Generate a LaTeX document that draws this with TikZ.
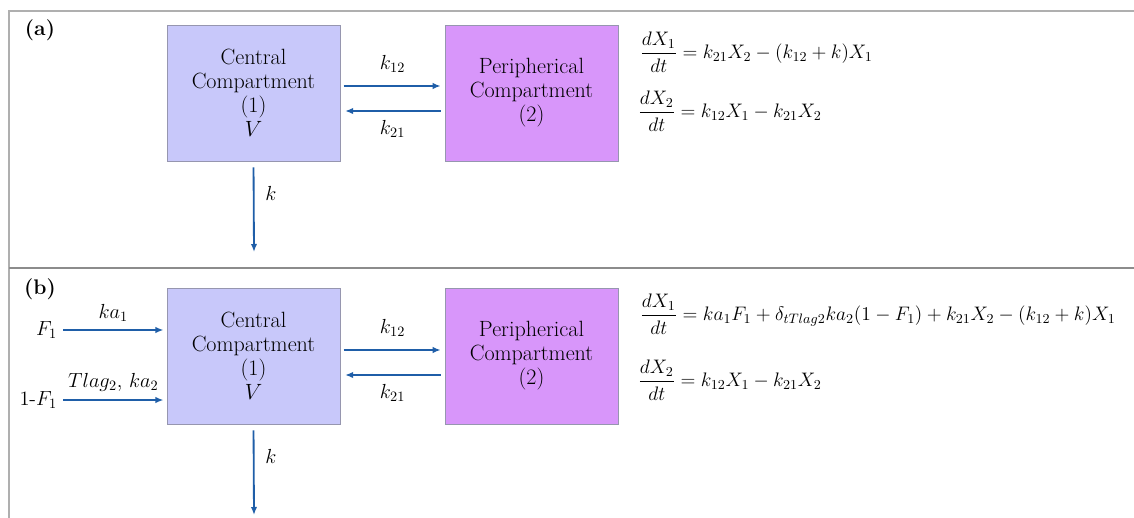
\RequirePackage{fix-cm}
\documentclass[tikz,border=0pt]{standalone}
\usepackage{amsmath}
\usetikzlibrary{arrows.meta,positioning}

\definecolor{flowblue}{RGB}{31,94,168}
\definecolor{centralfill}{RGB}{200,200,250}
\definecolor{periphfill}{RGB}{216,150,250}
\definecolor{boxedge}{RGB}{150,150,175}
\definecolor{framegray}{RGB}{175,175,175}

\begin{document}
\begin{tikzpicture}[x=0.025cm, y=-0.025cm,
    central/.style={rectangle, draw=boxedge, fill=centralfill, minimum width=4.325cm, minimum height=3.4cm, align=center, font=\fontsize{15.7}{17}\selectfont},
    periph/.style={rectangle, draw=boxedge, fill=periphfill, minimum width=4.325cm, minimum height=3.4cm, align=center, font=\fontsize{15.7}{17}\selectfont},
    flow/.style={-{Latex[length=2mm,width=1.6mm]}, flowblue, line width=1.3pt},
    rate/.style={font=\fontsize{14.5}{16}\selectfont, inner sep=2pt, text=black},
    panel/.style={font=\fontsize{15}{17}\selectfont\bfseries},
    eqn/.style={anchor=west, font=\fontsize{13.9}{17}\selectfont, inner sep=0pt}
]
\useasboundingbox (0,0) rectangle (1134,518);

% Frame
\draw[framegray, line width=1pt] (1134,11) -- (9,11) -- (9,518);
\draw[framegray!80!black, line width=1pt] (9,268) -- (1134,268);

% ---------- Panel (a) ----------
\node[panel] (labA) at (40,30) {(a)};

\node[central] (cenA) at (253.5,93) {Central\\Compartment\\(1)\\$V$};
\node[periph] (perA) at (531.5,93) {Peripherical\\Compartment\\(2)};

\draw[flow, shorten <=0.08cm, shorten >=0.1cm] ([yshift=0.175cm]cenA.east) -- ([yshift=0.175cm]perA.west) node[rate, midway, above=0.25cm] {$k_{12}$};
\draw[flow, shorten <=0.1cm, shorten >=0.12cm] ([yshift=-0.45cm]perA.west) -- ([yshift=-0.45cm]cenA.east) node[rate, midway, below=0.15cm] {$k_{21}$};

\coordinate (outA) at (254,252);
\draw[flow, shorten <=0.15cm] (cenA.south) -- (outA) node[rate, pos=0.35, right=0.2cm] {$k$};

\node[eqn] (eqA1) at (640,52) {$\dfrac{dX_1}{dt} = k_{21}X_2 - (k_{12}+k)X_1$};
\node[eqn] (eqA2) at (638,111) {$\dfrac{dX_2}{dt} = k_{12}X_1 - k_{21}X_2$};

% ---------- Panel (b) ----------
\node[panel] (labB) at (40,289) {(b)};

\node[central] (cenB) at (253.5,356) {Central\\Compartment\\(1)\\$V$};
\node[periph] (perB) at (531.5,356) {Peripherical\\Compartment\\(2)};

% Inputs
\node[rate, anchor=east] (fA) at (60,330) {$F_1$};
\node[rate, anchor=east] (fB) at (60,400) {1-$F_1$};
\draw[flow, shorten <=0.08cm, shorten >=0.08cm] (fA.east |- 0,330) -- ([yshift=0.65cm]cenB.west) node[rate, midway, above=0.12cm] {$ka_1$};
\draw[flow, shorten <=0.08cm, shorten >=0.08cm] (fB.east |- 0,400) -- ([yshift=-1.1cm]cenB.west) node[rate, midway, above=0.12cm] {$Tlag_2$, $ka_2$};

\draw[flow, shorten <=0.08cm, shorten >=0.1cm] ([yshift=0.15cm]cenB.east) -- ([yshift=0.15cm]perB.west) node[rate, midway, above=0.25cm] {$k_{12}$};
\draw[flow, shorten <=0.1cm, shorten >=0.12cm] ([yshift=-0.475cm]perB.west) -- ([yshift=-0.475cm]cenB.east) node[rate, midway, below=0.15cm] {$k_{21}$};

\coordinate (outB) at (254,515);
\draw[flow, shorten <=0.15cm] (cenB.south) -- (outB) node[rate, pos=0.35, right=0.2cm] {$k$};

\node[eqn] (eqB1) at (640,314) {$\dfrac{dX_1}{dt} = ka_1F_1 + \delta_{tTlag2}ka_2(1-F_1) + k_{21}X_2 - (k_{12}+k)X_1$};
\node[eqn] (eqB2) at (638,380) {$\dfrac{dX_2}{dt} = k_{12}X_1 - k_{21}X_2$};

\end{tikzpicture}
\end{document}
